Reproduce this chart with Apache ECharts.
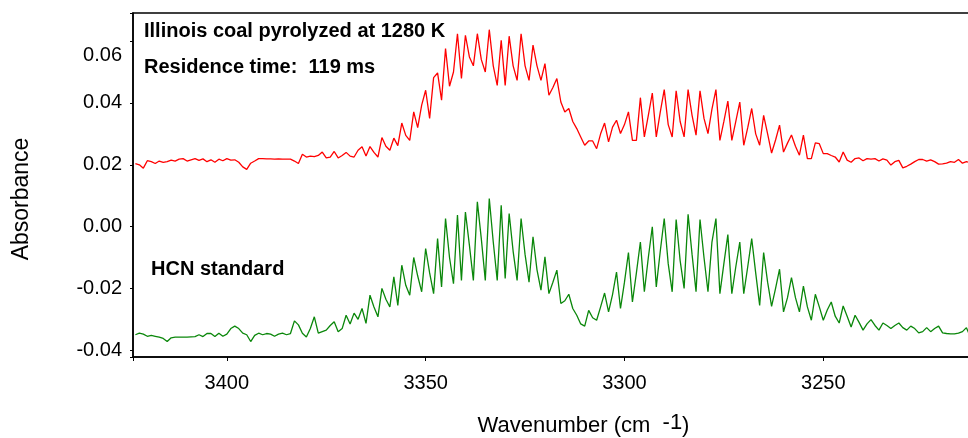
<!DOCTYPE html>
<html>
<head>
<meta charset="utf-8">
<script src="https://cdn.jsdelivr.net/npm/echarts@6/dist/echarts.min.js"></script>
<style>
html,body{margin:0;padding:0;background:#fff;}
#chart{width:968px;height:438px;}
</style>
</head>
<body>
<div id="chart"></div>
<script>
// Sampling grid: 1 cm-1 steps, from 3423 down to 3213 cm-1
const waveStart = 3423;
const waveStep = 1;

// Illinois coal pyrolyzed at 1280 K (red), absorbance per sample
const pyrolysisAbs = [
  0.0204, 0.0200, 0.0189, 0.0213, 0.0210, 0.0204, 0.0212, 0.0208, 0.0210, 0.0215,
  0.0212, 0.0218, 0.0220, 0.0212, 0.0216, 0.0220, 0.0214, 0.0219, 0.0210, 0.0216,
  0.0208, 0.0218, 0.0213, 0.0220, 0.0215, 0.0216, 0.0208, 0.0193, 0.0185, 0.0205,
  0.0212, 0.0220, 0.0220, 0.0219, 0.0219, 0.0218, 0.0219, 0.0218, 0.0218, 0.0218,
  0.0212, 0.0204, 0.0234, 0.0225, 0.0228, 0.0226, 0.0230, 0.0241, 0.0222, 0.0225,
  0.0243, 0.0222, 0.0230, 0.0240, 0.0228, 0.0225, 0.0247, 0.0258, 0.0228, 0.0259,
  0.0240, 0.0225, 0.0288, 0.0260, 0.0247, 0.0286, 0.0262, 0.0335, 0.0295, 0.0279,
  0.0371, 0.0320, 0.0393, 0.0441, 0.0350, 0.0482, 0.0497, 0.0409, 0.0576, 0.0454,
  0.0500, 0.0624, 0.0479, 0.0619, 0.0549, 0.0520, 0.0624, 0.0540, 0.0500, 0.0637,
  0.0520, 0.0457, 0.0603, 0.0457, 0.0616, 0.0520, 0.0473, 0.0624, 0.0520, 0.0473,
  0.0587, 0.0520, 0.0473, 0.0527, 0.0425, 0.0450, 0.0479, 0.0403, 0.0371, 0.0382,
  0.0340, 0.0317, 0.0290, 0.0263, 0.0277, 0.0277, 0.0252, 0.0300, 0.0335, 0.0274,
  0.0322, 0.0344, 0.0301, 0.0330, 0.0371, 0.0279, 0.0279, 0.0417, 0.0290, 0.0360,
  0.0432, 0.0290, 0.0370, 0.0443, 0.0330, 0.0290, 0.0439, 0.0340, 0.0290, 0.0443,
  0.0360, 0.0296, 0.0439, 0.0350, 0.0301, 0.0380, 0.0443, 0.0279, 0.0340, 0.0406,
  0.0279, 0.0340, 0.0403, 0.0263, 0.0320, 0.0382, 0.0300, 0.0263, 0.0360, 0.0300,
  0.0238, 0.0280, 0.0328, 0.0241, 0.0270, 0.0296, 0.0260, 0.0231, 0.0296, 0.0220,
  0.0220, 0.0271, 0.0268, 0.0236, 0.0236, 0.0230, 0.0225, 0.0209, 0.0241, 0.0215,
  0.0208, 0.0220, 0.0222, 0.0213, 0.0220, 0.0218, 0.0220, 0.0212, 0.0219, 0.0215,
  0.0199, 0.0210, 0.0214, 0.0190, 0.0195, 0.0202, 0.0210, 0.0217, 0.0217, 0.0212,
  0.0216, 0.0210, 0.0202, 0.0203, 0.0205, 0.0210, 0.0208, 0.0217, 0.0205, 0.0210,
  0.0206
];

// HCN standard (green), absorbance per sample
const hcnAbs = [
  -0.0350, -0.0345, -0.0348, -0.0355, -0.0352, -0.0355, -0.0358, -0.0362, -0.0372, -0.0360,
  -0.0358, -0.0358, -0.0358, -0.0358, -0.0357, -0.0356, -0.0350, -0.0356, -0.0346, -0.0346,
  -0.0356, -0.0345, -0.0355, -0.0348, -0.0330, -0.0322, -0.0330, -0.0345, -0.0350, -0.0372,
  -0.0352, -0.0345, -0.0350, -0.0346, -0.0348, -0.0355, -0.0348, -0.0345, -0.0350, -0.0346,
  -0.0305, -0.0318, -0.0345, -0.0357, -0.0330, -0.0292, -0.0345, -0.0340, -0.0335, -0.0320,
  -0.0308, -0.0340, -0.0330, -0.0287, -0.0315, -0.0280, -0.0300, -0.0265, -0.0313, -0.0222,
  -0.0260, -0.0292, -0.0200, -0.0235, -0.0260, -0.0163, -0.0255, -0.0125, -0.0190, -0.0222,
  -0.0100, -0.0160, -0.0211, -0.0071, -0.0150, -0.0217, -0.0039, -0.0195, 0.0026, -0.0100,
  -0.0185, 0.0037, -0.0174, 0.0047, -0.0060, -0.0174, 0.0080, -0.0040, -0.0174, 0.0091,
  -0.0050, -0.0174, 0.0069, -0.0168, 0.0042, -0.0080, -0.0174, 0.0026, -0.0090, -0.0180,
  -0.0033, -0.0140, -0.0206, -0.0098, -0.0217, -0.0180, -0.0141, -0.0249, -0.0240, -0.0219,
  -0.0265, -0.0287, -0.0315, -0.0322, -0.0271, -0.0295, -0.0303, -0.0260, -0.0215, -0.0276,
  -0.0220, -0.0147, -0.0265, -0.0180, -0.0084, -0.0244, -0.0150, -0.0050, -0.0211, -0.0100,
  -0.0001, -0.0195, -0.0080, 0.0026, -0.0120, -0.0211, 0.0023, -0.0110, -0.0200, 0.0040,
  -0.0090, -0.0211, 0.0023, -0.0100, -0.0211, -0.0050, 0.0026, -0.0217, -0.0120, -0.0026,
  -0.0217, -0.0130, -0.0050, -0.0217, -0.0130, -0.0039, -0.0150, -0.0255, -0.0084, -0.0180,
  -0.0258, -0.0200, -0.0138, -0.0276, -0.0230, -0.0165, -0.0230, -0.0276, -0.0193, -0.0260,
  -0.0303, -0.0219, -0.0260, -0.0303, -0.0270, -0.0244, -0.0290, -0.0312, -0.0257, -0.0290,
  -0.0325, -0.0287, -0.0310, -0.0335, -0.0315, -0.0301, -0.0320, -0.0335, -0.0312, -0.0320,
  -0.0330, -0.0320, -0.0312, -0.0327, -0.0335, -0.0322, -0.0330, -0.0344, -0.0340, -0.0327,
  -0.0340, -0.0330, -0.0322, -0.0344, -0.0346, -0.0347, -0.0347, -0.0345, -0.0340, -0.0327,
  -0.0357
];

const yTickValues = [-0.04, -0.02, 0.00, 0.02, 0.04, 0.06];
const xTickStep = 50;
const annotations = ['Illinois coal pyrolyzed at 1280 K', 'Residence time:  119 ms', 'HCN standard'];

function toPairs(vals) {
  return vals.map((v, i) => [waveStart - i * waveStep, v]);
}

const chart = echarts.init(document.getElementById('chart'), null, {renderer: 'canvas'});
const FONT = '"Liberation Sans", Arial, sans-serif';

chart.setOption({
  animation: false,
  backgroundColor: '#ffffff',
  grid: {
    left: 133, top: 13, right: -4, bottom: 81,
    outerBoundsMode: 'none',
    containLabel: false,
    show: true, borderColor: '#000', borderWidth: 1.5, backgroundColor: 'transparent'
  },
  xAxis: {
    type: 'value',
    inverse: true,
    min: 3212.6,
    max: 3423.6,
    minInterval: xTickStep,
    maxInterval: xTickStep,
    splitLine: {show: false},
    axisLine: {show: true, onZero: false, lineStyle: {color: '#000', width: 1.5}},
    axisTick: {show: true, length: 4, lineStyle: {color: '#000', width: 1}},
    axisLabel: {
      color: '#000', fontSize: 20, fontFamily: FONT, margin: 16,
      formatter: v => (Math.abs(v / xTickStep - Math.round(v / xTickStep)) < 1e-6 ? String(v) : '')
    },
    name: 'Wavenumber (cm  {sup|-1})',
    nameLocation: 'middle',
    nameGap: 55,
    nameTextStyle: {
      color: '#000', fontSize: 22, fontFamily: FONT, padding: [0, 0, 0, 62],
      rich: {sup: {fontSize: 22, fontFamily: FONT, color: '#000', padding: [0, 0, 6, 0]}}
    }
  },
  yAxis: {
    type: 'value',
    min: -0.0422,
    max: 0.0691,
    minInterval: 0.02,
    maxInterval: 0.02,
    splitLine: {show: false},
    axisLine: {show: true, onZero: false, lineStyle: {color: '#000', width: 1.5}},
    axisTick: {show: true, length: 3, lineStyle: {color: '#000', width: 1}},
    axisLabel: {
      color: '#000', fontSize: 20, fontFamily: FONT, margin: 11,
      formatter: function (v) {
        const hit = yTickValues.find(t => Math.abs(t - v) < 1e-6);
        if (hit === undefined) return '';
        const s = hit.toFixed(2);
        return hit > 0.05 ? '{low|' + s + '}' : s;
      },
      rich: {low: {fontSize: 20, fontFamily: FONT, color: '#000', padding: [28, 0, 0, 0]}}
    },
    name: 'Absorbance',
    nameLocation: 'middle',
    nameRotate: 90,
    nameGap: 100,
    nameTextStyle: {color: '#000', fontSize: 23, fontFamily: FONT, padding: [0, 28, 0, 0]}
  },
  series: [
    {
      name: 'Illinois coal pyrolyzed',
      type: 'line',
      data: toPairs(pyrolysisAbs),
      showSymbol: false,
      lineStyle: {color: '#ff0000', width: 1.3},
      itemStyle: {color: '#ff0000'}
    },
    {
      name: 'HCN standard',
      type: 'line',
      data: toPairs(hcnAbs),
      showSymbol: false,
      lineStyle: {color: '#0a870a', width: 1.3},
      itemStyle: {color: '#0a870a'}
    }
  ],
  graphic: [
    {type: 'text', style: {x: 144, y: 31, text: annotations[0], fill: '#000', font: 'bold 20px ' + FONT, verticalAlign: 'middle'}},
    {type: 'text', style: {x: 144, y: 67, text: annotations[1], fill: '#000', font: 'bold 20px ' + FONT, verticalAlign: 'middle'}},
    {type: 'text', style: {x: 151, y: 269, text: annotations[2], fill: '#000', font: 'bold 20px ' + FONT, verticalAlign: 'middle'}}
  ]
});
</script>
</body>
</html>
